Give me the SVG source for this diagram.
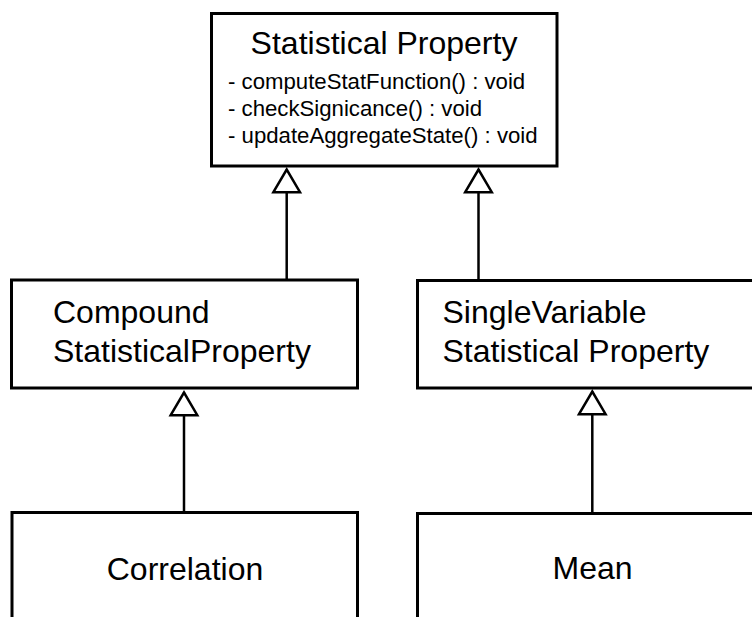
<svg xmlns="http://www.w3.org/2000/svg" width="752" height="617" viewBox="0 0 752 617">
  <style>
    .box { fill: #ffffff; stroke: #000000; stroke-width: 3; }
    .name { font-family: "Liberation Sans", Arial, sans-serif; font-size: 32px; fill: #000000; }
    .op { font-family: "Liberation Sans", Arial, sans-serif; font-size: 22.2px; fill: #000000; }
    .edge { fill: none; stroke: #000000; stroke-width: 2.5; }
  </style>
  <defs>
    <!-- hollow triangle head for generalization -->
    <marker id="gen" markerUnits="userSpaceOnUse" viewBox="-3 -16 29 32" markerWidth="29" markerHeight="32" refX="22.7" refY="0" orient="auto" overflow="visible">
      <path d="M0,-13.3 L22.7,0 L0,13.3 Z" fill="#ffffff" stroke="#000000" stroke-width="2.5" stroke-linejoin="miter"/>
    </marker>
  </defs>
  <rect width="752" height="617" fill="#ffffff"/>

  <g id="statistical-property">
    <rect class="box" x="211.5" y="13.5" width="345.5" height="152.5"/>
    <text class="name" x="384" y="53.5" text-anchor="middle">Statistical Property</text>
    <text class="op" x="228" y="89">- computeStatFunction() : void</text>
    <text class="op" x="228" y="116">- checkSignicance() : void</text>
    <text class="op" x="228" y="142.5">- updateAggregateState() : void</text>
  </g>

  <g id="compound-statistical-property">
    <rect class="box" x="11.5" y="280" width="346" height="108"/>
    <text class="name" x="53" y="323">Compound</text>
    <text class="name" x="53" y="361.5">StatisticalProperty</text>
  </g>

  <g id="single-variable-statistical-property">
    <rect class="box" x="417.5" y="280.5" width="350" height="107.5"/>
    <text class="name" x="442.5" y="323">SingleVariable</text>
    <text class="name" x="442.5" y="361.5">Statistical Property</text>
  </g>

  <g id="correlation">
    <rect class="box" x="12" y="512.5" width="345.5" height="130"/>
    <text class="name" x="185" y="580" text-anchor="middle">Correlation</text>
  </g>

  <g id="mean">
    <rect class="box" x="417.5" y="513.5" width="350" height="130"/>
    <text class="name" x="592.5" y="579" text-anchor="middle">Mean</text>
  </g>

  <g id="connectors">
    <path class="edge" d="M286.7,280 L286.7,169.5" marker-end="url(#gen)"/>
    <path class="edge" d="M478.5,280.5 L478.5,169.5" marker-end="url(#gen)"/>
    <path class="edge" d="M184,512.5 L184,392.5" marker-end="url(#gen)"/>
    <path class="edge" d="M592.3,513.5 L592.3,391.5" marker-end="url(#gen)"/>
  </g>
</svg>
